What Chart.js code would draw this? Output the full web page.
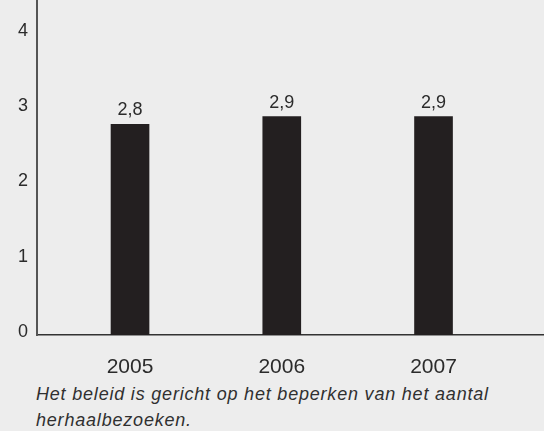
<!DOCTYPE html>
<html lang="nl">
<head>
<meta charset="utf-8">
<title>Herhaalbezoeken</title>
<script src="https://cdn.jsdelivr.net/npm/chart.js@4.4.1/dist/chart.umd.min.js"></script>
<style>
  html, body { margin: 0; padding: 0; background: #ededed; }
  .wrap { position: relative; width: 544px; height: 431px; overflow: hidden; }
  #chart { position: absolute; left: 0; top: 0; }
  .note {
    position: absolute; left: 36px; top: 381px; width: 508px;
    font: italic 18px "Liberation Sans", Arial, sans-serif;
    line-height: 26px; color: #303030;
    letter-spacing: 0.8px; white-space: nowrap;
  }
</style>
</head>
<body>
<div class="wrap">
  <canvas id="chart" width="544" height="380"></canvas>
  <div class="note">Het beleid is gericht op het beperken van het aantal<br>herhaalbezoeken.</div>
</div>
<script>
// jaren en gemiddeld aantal bezoeken
const years = [2005, 2006, 2007];
const visits = [2.8, 2.9, 2.9];
const yTicks = [0, 1, 2, 3, 4];

const FONT = '"Liberation Sans", Arial, sans-serif';
const fmt = v => String(v).replace('.', ',');

// waarde boven elke staaf
const valueLabels = {
  id: 'valueLabels',
  afterDatasetsDraw(chart) {
    const { ctx } = chart;
    const meta = chart.getDatasetMeta(0);
    ctx.save();
    ctx.font = '18px ' + FONT;
    ctx.fillStyle = '#2b2b2b';
    ctx.textAlign = 'center';
    ctx.textBaseline = 'alphabetic';
    meta.data.forEach((bar, i) => {
      ctx.fillText(fmt(visits[i]), bar.x, bar.y - 9);
    });
    ctx.restore();
  }
};

// geen extra ruimte rond de assen
const noPad = s => { s.paddingTop = s.paddingBottom = s.paddingLeft = s.paddingRight = 0; };

new Chart(document.getElementById('chart'), {
  type: 'bar',
  data: {
    datasets: [{
      data: years.map((y, i) => ({ x: y, y: visits[i] })),
      backgroundColor: '#231f20',
      borderWidth: 0,
      barThickness: 38
    }]
  },
  options: {
    responsive: false,
    animation: false,
    layout: { padding: 0 },
    plugins: { legend: { display: false }, tooltip: { enabled: false } },
    scales: {
      x: {
        type: 'linear',
        offset: false,
        min: 2004.387,
        max: 2007.728,
        grid: { display: false, drawTicks: false },
        border: { display: true, color: '#333', width: 1.5 },
        afterBuildTicks: s => { s.ticks = years.map(v => ({ value: v })); },
        afterFit: s => { s.height = 45; noPad(s); },
        ticks: {
          padding: 20,
          color: '#2b2b2b',
          font: { family: FONT, size: 21 },
          callback: v => String(v)
        }
      },
      y: {
        min: 0,
        max: 4.45,
        grid: { display: false, drawTicks: false },
        border: { display: true, color: '#555', width: 2 },
        afterBuildTicks: s => { s.ticks = yTicks.map(v => ({ value: v })); },
        afterFit: s => { s.width = 37; noPad(s); },
        ticks: {
          padding: 9,
          labelOffset: -3,
          color: '#2b2b2b',
          font: { family: FONT, size: 18 },
          callback: v => fmt(v)
        }
      }
    }
  },
  plugins: [valueLabels]
});
</script>
</body>
</html>
